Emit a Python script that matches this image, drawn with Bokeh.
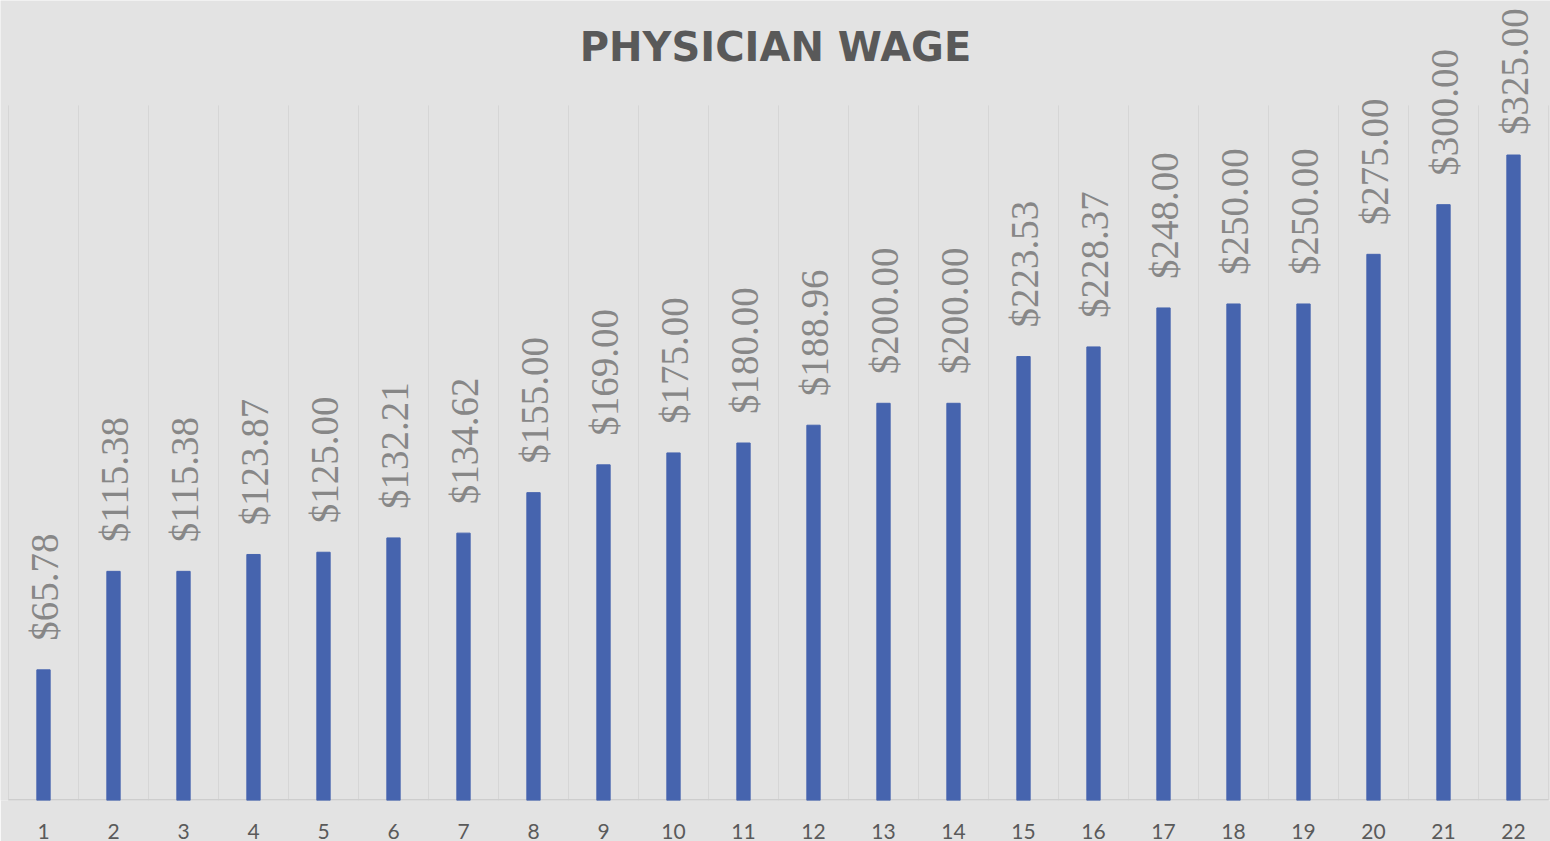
from bokeh.plotting import figure
from bokeh.models import ColumnDataSource, LabelSet, Label, FixedTicker, Range1d
from bokeh.embed import file_html
from bokeh.resources import INLINE

categories = list(range(1, 23))
wages = [65.78, 115.38, 115.38, 123.87, 125.00, 132.21, 134.62, 155.00, 169.00, 175.00,
         180.00, 188.96, 200.00, 200.00, 223.53, 228.37, 248.00, 250.00, 250.00, 275.00,
         300.00, 325.00]
labels = ["${:,.2f}".format(v) for v in wages]
title_text = "PHYSICIAN WAGE"

W, H = 1550, 841
CAT_PX = 70.0
PLOT_LEFT = 8          # px where category 0.5 sits
PLOT_TOP = 105         # px where value Y_MAX sits
BASE = 801             # px of baseline (frame bottom)
Y_MAX = 350
ppu = (BASE - PLOT_TOP) / Y_MAX
y_top = BASE / ppu
x_start = 0.5 - PLOT_LEFT / CAT_PX
x_end = x_start + W / CAT_PX

FS = 39
char_w = 0.5 * FS

offsets = []
for v, t in zip(wages, labels):
    top_px = BASE - v * ppu
    text_len = len(t) * char_w - 0.25 * FS * t.count(".")
    offsets.append(min(29, top_px - text_len - 8))

src = ColumnDataSource(dict(x=categories, top=wages, lab=labels, off=offsets))

p = figure(width=W, height=H, output_backend="svg", toolbar_location=None,
           x_range=Range1d(x_start, x_end), y_range=Range1d(0, y_top),
           min_border_left=0, min_border_right=0, min_border_top=0,
           min_border_bottom=H - BASE)
p.background_fill_color = "#e3e3e3"
p.border_fill_color = "#e3e3e3"
p.outline_line_color = None
p.yaxis.visible = False
p.ygrid.visible = False
p.xgrid.visible = False

grid_x = [i + 0.5 for i in range(0, 23)]
p.segment(x0=grid_x, y0=[0] * len(grid_x), x1=grid_x, y1=[Y_MAX] * len(grid_x),
          line_color="#d6d6d6", line_width=1)
p.segment(x0=[0.5], y0=[0], x1=[22.5], y1=[0], line_color="#cdcdcd", line_width=3)

p.vbar(x="x", top="top", width=0.19, source=src, color="#4664ae")

ax = p.xaxis[0]
ax.ticker = FixedTicker(ticks=categories)
ax.axis_line_color = None
ax.major_tick_line_color = None
ax.minor_tick_line_color = None
ax.major_label_text_font = "Lato"
ax.major_label_text_font_size = "21px"
ax.major_label_text_color = "#5a5a5a"
ax.major_label_standoff = 17

ls = LabelSet(x="x", y="top", text="lab", source=src, angle=1.5708,
              x_offset=1, y_offset="off", text_align="left", text_baseline="middle",
              text_font="Lato", text_font_size=f"{FS}px", text_color="#878787")
p.add_layout(ls)

title = Label(x=(x_start + x_end) / 2, y=(BASE - 47) / ppu, text=title_text,
              text_align="center", text_baseline="middle", text_font="DejaVu Sans",
              text_font_style="bold", text_font_size="40px", text_color="#595959")
p.add_layout(title)

open("out.html", "w").write(file_html(p, INLINE))
